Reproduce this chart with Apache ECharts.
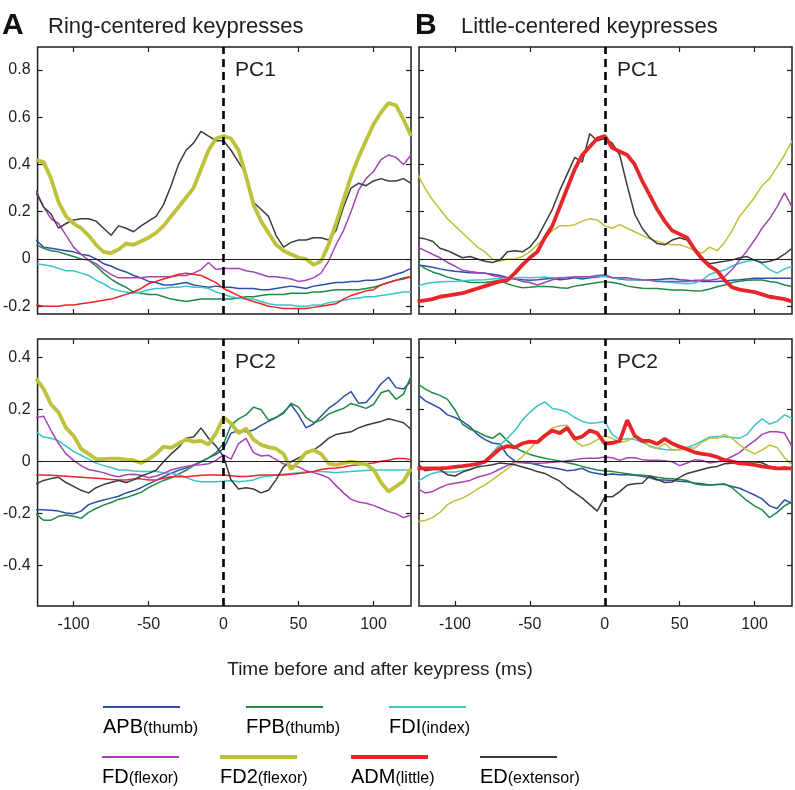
<!DOCTYPE html>
<html>
<head>
<meta charset="utf-8">
<script src="https://cdn.jsdelivr.net/npm/echarts@6/dist/echarts.min.js"></script>
<style>
  html, body { margin: 0; padding: 0; background: #fff; }
  #chart { width: 795px; height: 790px; }
</style>
</head>
<body>
<div id="chart"></div>
<script>
const times = [-125, -120, -115, -110, -105, -100, -95, -90, -85, -80,
  -75, -70, -65, -60, -55, -50, -45, -40, -35, -30,
  -25, -20, -15, -10, -5, 0, 5, 10, 15, 20,
  25, 30, 35, 40, 45, 50, 55, 60, 65, 70,
  75, 80, 85, 90, 95, 100, 105, 110, 115, 120, 125]

const muscleNames = ['APB', 'FPB', 'FDI', 'FD', 'FD2', 'ADM', 'ED']
const muscleParts = ['(thumb)', '(thumb)', '(index)', '(flexor)', '(flexor)', '(little)', '(extensor)']
const muscleColors = ['#2f4fa6', '#1e8a46', '#3cc4c8', '#a545b5', '#bdc23a', '#e8262a', '#3c3c3c']

const panelLetters = ['A', 'B']
const panelTitles = ['Ring-centered keypresses', 'Little-centered keypresses']
const pcLabels = ['PC1', 'PC2']
const xTicks = [-100, -50, 0, 50, 100]
const pc1Ticks = [-0.2, 0, 0.2, 0.4, 0.6, 0.8]
const pc2Ticks = [-0.4, -0.2, 0, 0.2, 0.4]
const xTitle = 'Time before and after keypress (ms)'

// Ring-centered, PC1
const ringPc1Apb = [0.08, 0.05, 0.045, 0.04, 0.035, 0.03, 0.02, 0.015, 0.0, -0.02,
  -0.03, -0.045, -0.055, -0.07, -0.08, -0.095, -0.10, -0.11, -0.11, -0.105,
  -0.10, -0.11, -0.115, -0.12, -0.115, -0.12, -0.12, -0.125, -0.125, -0.125,
  -0.13, -0.13, -0.125, -0.12, -0.115, -0.12, -0.125, -0.115, -0.11, -0.105,
  -0.10, -0.10, -0.095, -0.095, -0.09, -0.09, -0.085, -0.075, -0.065, -0.055, -0.04]
const ringPc1Fpb = [0.06, 0.045, 0.035, 0.03, 0.02, 0.01, 0.0, -0.005, -0.03, -0.06,
  -0.085, -0.105, -0.12, -0.14, -0.145, -0.15, -0.15, -0.16, -0.17, -0.175,
  -0.18, -0.175, -0.17, -0.17, -0.17, -0.17, -0.17, -0.165, -0.16, -0.16,
  -0.155, -0.15, -0.15, -0.15, -0.145, -0.145, -0.145, -0.14, -0.14, -0.135,
  -0.13, -0.13, -0.13, -0.13, -0.125, -0.12, -0.11, -0.10, -0.09, -0.08, -0.075]
const ringPc1Fdi = [-0.02, -0.025, -0.03, -0.04, -0.05, -0.05, -0.06, -0.07, -0.09, -0.105,
  -0.125, -0.135, -0.14, -0.145, -0.14, -0.13, -0.125, -0.125, -0.12, -0.12,
  -0.115, -0.12, -0.12, -0.125, -0.14, -0.15, -0.16, -0.165, -0.17, -0.17,
  -0.18, -0.19, -0.195, -0.195, -0.195, -0.20, -0.20, -0.195, -0.195, -0.185,
  -0.18, -0.175, -0.17, -0.165, -0.16, -0.16, -0.155, -0.15, -0.145, -0.14, -0.14]
const ringPc1Fd = [0.29, 0.22, 0.17, 0.15, 0.10, 0.05, 0.02, -0.005, -0.02, -0.045,
  -0.065, -0.08, -0.08, -0.08, -0.08, -0.075, -0.075, -0.075, -0.075, -0.07,
  -0.07, -0.06, -0.045, -0.015, -0.045, -0.04, -0.04, -0.04, -0.05, -0.055,
  -0.065, -0.075, -0.075, -0.08, -0.085, -0.095, -0.09, -0.08, -0.06, -0.01,
  0.06, 0.12, 0.20, 0.29, 0.34, 0.37, 0.42, 0.44, 0.43, 0.40, 0.44]
const ringPc1Fd2 = [0.42, 0.41, 0.34, 0.24, 0.18, 0.15, 0.13, 0.10, 0.06, 0.03,
  0.025, 0.04, 0.065, 0.06, 0.075, 0.09, 0.11, 0.14, 0.18, 0.22,
  0.26, 0.30, 0.38, 0.46, 0.51, 0.52, 0.51, 0.46, 0.35, 0.23,
  0.16, 0.11, 0.06, 0.035, 0.02, 0.005, 0.0, -0.025, -0.01, 0.06,
  0.15, 0.25, 0.35, 0.43, 0.50, 0.57, 0.62, 0.66, 0.65, 0.59, 0.52]
const ringPc1Adm = [-0.195, -0.2, -0.2, -0.2, -0.195, -0.195, -0.19, -0.185, -0.18, -0.175,
  -0.17, -0.16, -0.15, -0.14, -0.125, -0.105, -0.095, -0.085, -0.075, -0.065,
  -0.06, -0.065, -0.07, -0.085, -0.10, -0.125, -0.14, -0.155, -0.17, -0.18,
  -0.19, -0.2, -0.205, -0.21, -0.21, -0.21, -0.21, -0.205, -0.2, -0.195,
  -0.19, -0.17, -0.155, -0.145, -0.135, -0.13, -0.11, -0.10, -0.09, -0.085, -0.075]
const ringPc1Ed = [0.28, 0.22, 0.19, 0.13, 0.15, 0.165, 0.17, 0.17, 0.16, 0.13,
  0.10, 0.14, 0.13, 0.115, 0.14, 0.16, 0.18, 0.23, 0.31, 0.40,
  0.46, 0.49, 0.54, 0.52, 0.50, 0.50, 0.46, 0.41, 0.36, 0.24,
  0.21, 0.18, 0.10, 0.05, 0.07, 0.08, 0.08, 0.09, 0.09, 0.08,
  0.12, 0.22, 0.30, 0.32, 0.31, 0.33, 0.34, 0.33, 0.33, 0.34, 0.32]

// Little-centered, PC1
const littlePc1Apb = [-0.025, -0.03, -0.035, -0.042, -0.048, -0.052, -0.055, -0.058, -0.06, -0.06,
  -0.065, -0.07, -0.078, -0.085, -0.088, -0.09, -0.088, -0.085, -0.082, -0.088,
  -0.085, -0.08, -0.085, -0.08, -0.078, -0.068, -0.08, -0.085, -0.088, -0.088,
  -0.09, -0.088, -0.088, -0.085, -0.083, -0.088, -0.09, -0.093, -0.095, -0.095,
  -0.095, -0.093, -0.09, -0.088, -0.085, -0.082, -0.082, -0.082, -0.082, -0.082, -0.082]
const littlePc1Fpb = [-0.02, -0.04, -0.055, -0.065, -0.077, -0.085, -0.092, -0.10, -0.10, -0.10,
  -0.095, -0.09, -0.105, -0.115, -0.122, -0.12, -0.117, -0.117, -0.118, -0.122,
  -0.124, -0.115, -0.11, -0.105, -0.10, -0.096, -0.10, -0.105, -0.115, -0.12,
  -0.124, -0.125, -0.125, -0.128, -0.131, -0.131, -0.133, -0.136, -0.135, -0.127,
  -0.118, -0.11, -0.10, -0.094, -0.09, -0.089, -0.089, -0.095, -0.10, -0.11, -0.117]
const littlePc1Fdi = [-0.115, -0.105, -0.1, -0.097, -0.095, -0.095, -0.092, -0.09, -0.089, -0.088,
  -0.085, -0.083, -0.09, -0.08, -0.078, -0.08, -0.078, -0.076, -0.08, -0.08,
  -0.077, -0.076, -0.076, -0.075, -0.075, -0.075, -0.08, -0.083, -0.086, -0.088,
  -0.09, -0.09, -0.093, -0.097, -0.10, -0.103, -0.105, -0.102, -0.09, -0.065,
  -0.055, -0.047, -0.03, -0.018, -0.01, -0.005, -0.02, -0.045, -0.06, -0.042, -0.032]
const littlePc1Fd = [0.05, 0.035, 0.02, 0.005, -0.015, -0.03, -0.048, -0.053, -0.057, -0.06,
  -0.07, -0.076, -0.08, -0.085, -0.095, -0.10, -0.11, -0.10, -0.088, -0.082,
  -0.08, -0.075, -0.075, -0.075, -0.07, -0.068, -0.078, -0.08, -0.08, -0.085,
  -0.088, -0.09, -0.095, -0.095, -0.095, -0.095, -0.095, -0.09, -0.09, -0.09,
  -0.085, -0.075, -0.045, -0.005, 0.035, 0.08, 0.13, 0.17, 0.22, 0.28, 0.22]
const littlePc1Fd2 = [0.36, 0.30, 0.25, 0.21, 0.17, 0.14, 0.11, 0.08, 0.05, 0.03,
  0.0, -0.01, 0.0, 0.0, 0.01, 0.03, 0.06, 0.09, 0.12, 0.14,
  0.14, 0.145, 0.16, 0.17, 0.165, 0.14, 0.13, 0.145, 0.13, 0.115,
  0.10, 0.085, 0.075, 0.065, 0.06, 0.06, 0.05, 0.035, 0.025, 0.05,
  0.035, 0.07, 0.12, 0.18, 0.22, 0.26, 0.31, 0.34, 0.39, 0.44, 0.50]
const littlePc1Adm = [-0.18, -0.175, -0.17, -0.16, -0.155, -0.15, -0.145, -0.135, -0.125, -0.115,
  -0.105, -0.095, -0.09, -0.06, -0.025, 0.005, 0.03, 0.09, 0.14, 0.22,
  0.30, 0.38, 0.44, 0.475, 0.51, 0.52, 0.47, 0.455, 0.44, 0.40,
  0.33, 0.27, 0.21, 0.16, 0.12, 0.105, 0.09, 0.04, 0.0, -0.03,
  -0.05, -0.09, -0.12, -0.13, -0.135, -0.14, -0.15, -0.16, -0.165, -0.17, -0.18]
const littlePc1Ed = [0.09, 0.085, 0.075, 0.045, 0.035, 0.02, 0.005, 0.01, 0.0, -0.01,
  -0.015, -0.005, 0.03, 0.035, 0.03, 0.05, 0.09, 0.15, 0.21, 0.29,
  0.36, 0.43, 0.41, 0.53, 0.50, 0.51, 0.49, 0.44, 0.31, 0.19,
  0.13, 0.09, 0.065, 0.06, 0.08, 0.09, 0.08, 0.035, 0.0, -0.02,
  -0.015, -0.01, -0.005, 0.005, 0.01, -0.005, -0.015, -0.01, 0.0, 0.02, 0.045]

// Ring-centered, PC2
const ringPc2Apb = [-0.185, -0.185, -0.187, -0.19, -0.197, -0.2, -0.19, -0.165, -0.155, -0.147,
  -0.14, -0.133, -0.12, -0.112, -0.1, -0.085, -0.072, -0.058, -0.045, -0.033,
  -0.024, -0.012, 0.0, 0.015, 0.028, 0.05, 0.11, 0.12, 0.115, 0.122,
  0.14, 0.155, 0.17, 0.19, 0.22, 0.18, 0.13, 0.145, 0.175, 0.205,
  0.225, 0.25, 0.27, 0.225, 0.228, 0.26, 0.3, 0.325, 0.285, 0.28, 0.31]
const ringPc2Fpb = [-0.2, -0.225, -0.225, -0.21, -0.205, -0.21, -0.218, -0.195, -0.18, -0.167,
  -0.157, -0.145, -0.138, -0.128, -0.118, -0.1, -0.085, -0.072, -0.062, -0.048,
  -0.033, -0.015, 0.0, 0.015, 0.035, 0.07, 0.14, 0.165, 0.18, 0.21,
  0.2, 0.16, 0.17, 0.186, 0.225, 0.21, 0.17, 0.15, 0.16, 0.183,
  0.195, 0.205, 0.224, 0.215, 0.205, 0.22, 0.265, 0.275, 0.24, 0.26, 0.33]
const ringPc2Fdi = [0.115, 0.095, 0.09, 0.08, 0.06, 0.04, 0.025, 0.01, -0.005, -0.015,
  -0.022, -0.032, -0.032, -0.036, -0.038, -0.038, -0.038, -0.042, -0.045, -0.05,
  -0.06, -0.072, -0.077, -0.077, -0.077, -0.075, -0.072, -0.077, -0.074, -0.07,
  -0.06, -0.055, -0.051, -0.048, -0.045, -0.042, -0.04, -0.038, -0.038, -0.04,
  -0.042, -0.04, -0.038, -0.036, -0.034, -0.032, -0.032, -0.032, -0.032, -0.032, -0.032]
const ringPc2Fd = [0.17, 0.175, 0.12, 0.07, 0.03, 0.005, -0.015, -0.03, -0.036, -0.042,
  -0.052, -0.058, -0.05, -0.048, -0.052, -0.062, -0.055, -0.045, -0.032, -0.024,
  -0.018, -0.014, -0.012, -0.008, 0.005, 0.026, 0.01, 0.07, 0.09, 0.035,
  0.022, 0.025, 0.008, -0.008, -0.015, -0.02, -0.035, -0.042, -0.05, -0.062,
  -0.092, -0.12, -0.145, -0.155, -0.16, -0.168, -0.18, -0.192, -0.2, -0.215, -0.205]
const ringPc2Fd2 = [0.32, 0.28, 0.22, 0.19, 0.13, 0.10, 0.05, 0.03, 0.01, 0.01,
  0.012, 0.012, 0.008, 0.006, -0.005, 0.01, 0.03, 0.058, 0.053, 0.07,
  0.085, 0.077, 0.08, 0.066, 0.11, 0.17, 0.148, 0.11, 0.127, 0.085,
  0.065, 0.056, 0.05, 0.03, -0.03, 0.0, 0.035, 0.045, 0.03, -0.006,
  -0.012, -0.005, 0.0, -0.005, -0.01, -0.03, -0.08, -0.115, -0.095, -0.075, -0.026]
const ringPc2Adm = [-0.051, -0.051, -0.052, -0.054, -0.056, -0.058, -0.06, -0.062, -0.064, -0.066,
  -0.068, -0.07, -0.07, -0.066, -0.066, -0.07, -0.07, -0.064, -0.058, -0.058,
  -0.058, -0.055, -0.052, -0.051, -0.051, -0.051, -0.054, -0.057, -0.057, -0.054,
  -0.051, -0.051, -0.051, -0.051, -0.048, -0.045, -0.042, -0.038, -0.03, -0.026,
  -0.024, -0.02, -0.015, -0.012, -0.008, -0.005, 0.002, 0.006, 0.012, 0.012, 0.008]
const ringPc2Ed = [-0.085, -0.072, -0.065, -0.06, -0.08, -0.095, -0.11, -0.12, -0.1, -0.088,
  -0.08, -0.072, -0.08, -0.07, -0.055, -0.045, -0.033, 0.0, 0.03, 0.055,
  0.09, 0.095, 0.13, 0.09, 0.06, 0.02, -0.07, -0.105, -0.1, -0.105,
  -0.12, -0.11, -0.07, -0.02, 0.0, 0.015, 0.03, 0.045, 0.065, 0.09,
  0.105, 0.11, 0.115, 0.13, 0.14, 0.148, 0.155, 0.165, 0.158, 0.15, 0.125]

// Little-centered, PC2
const littlePc2Apb = [0.26, 0.235, 0.22, 0.205, 0.18, 0.17, 0.155, 0.135, 0.105, 0.085,
  0.072, 0.068, 0.025, 0.002, -0.002, -0.005, -0.012, -0.019, -0.023, -0.028,
  -0.035, -0.032, -0.025, -0.04, -0.045, -0.05, -0.047, -0.05, -0.05, -0.052,
  -0.056, -0.062, -0.07, -0.07, -0.072, -0.075, -0.077, -0.082, -0.085, -0.09,
  -0.088, -0.088, -0.095, -0.102, -0.115, -0.128, -0.143, -0.17, -0.18, -0.147, -0.16]
const littlePc2Fpb = [0.3, 0.28, 0.265, 0.255, 0.24, 0.2, 0.145, 0.125, 0.115, 0.1,
  0.09, 0.11, 0.08, 0.055, 0.04, 0.028, 0.02, 0.013, 0.008, 0.003,
  -0.004, -0.01, -0.018, -0.025, -0.032, -0.035, -0.038, -0.042, -0.046, -0.05,
  -0.052, -0.055, -0.06, -0.064, -0.066, -0.068, -0.072, -0.085, -0.09, -0.09,
  -0.088, -0.085, -0.1, -0.125, -0.15, -0.17, -0.185, -0.215, -0.195, -0.17, -0.154]
const littlePc2Fdi = [-0.077, -0.058, -0.045, -0.038, -0.04, -0.04, -0.034, -0.03, -0.02, 0.0,
  0.035, 0.065, 0.09, 0.12, 0.16, 0.19, 0.215, 0.23, 0.205, 0.2,
  0.19, 0.17, 0.155, 0.148, 0.15, 0.155, 0.105, 0.085, 0.088, 0.085,
  0.075, 0.062, 0.052, 0.047, 0.045, 0.048, 0.055, 0.065, 0.08, 0.095,
  0.097, 0.096, 0.093, 0.09, 0.105, 0.14, 0.165, 0.145, 0.155, 0.18, 0.167]
const littlePc2Fd = [-0.103, -0.12, -0.115, -0.1, -0.088, -0.083, -0.078, -0.072, -0.06, -0.052,
  -0.043, -0.028, -0.015, -0.002, -0.004, -0.006, -0.006, -0.005, -0.002, 0.0,
  0.004, 0.008, 0.012, 0.013, 0.013, 0.018, 0.015, 0.005, 0.015, 0.015,
  0.008, 0.006, 0.006, 0.004, 0.0, -0.015, -0.005, 0.008, 0.005, -0.005,
  0.0, 0.006, 0.02, 0.035, 0.06, 0.08, 0.105, 0.115, 0.115, 0.11, 0.058]
const littlePc2Fd2 = [-0.23, -0.226, -0.215, -0.195, -0.165, -0.15, -0.14, -0.125, -0.105, -0.09,
  -0.07, -0.048, -0.028, -0.005, 0.02, 0.05, 0.08, 0.105, 0.13, 0.138,
  0.14, 0.08, 0.06, 0.068, 0.085, 0.1, 0.09, 0.075, 0.08, 0.095,
  0.085, 0.058, 0.05, 0.07, 0.045, 0.045, 0.056, 0.052, 0.075, 0.09,
  0.09, 0.105, 0.09, 0.065, 0.045, 0.03, 0.045, 0.064, 0.055, 0.015, -0.013]
const littlePc2Adm = [-0.026, -0.026, -0.026, -0.026, -0.024, -0.02, -0.017, -0.013, -0.008, 0.0,
  0.025, 0.05, 0.06, 0.055, 0.07, 0.077, 0.075, 0.1, 0.12, 0.11,
  0.13, 0.088, 0.097, 0.12, 0.11, 0.07, 0.072, 0.08, 0.16, 0.1,
  0.08, 0.08, 0.068, 0.088, 0.07, 0.058, 0.048, 0.036, 0.03, 0.026,
  0.018, 0.006, 0.0, -0.006, -0.008, -0.012, -0.018, -0.022, -0.026, -0.026, -0.026]
const littlePc2Ed = [-0.006, -0.035, -0.03, -0.03, -0.05, -0.055, -0.04, -0.03, -0.02, -0.016,
  -0.012, -0.005, -0.008, -0.012, -0.02, -0.028, -0.038, -0.045, -0.06, -0.075,
  -0.1, -0.12, -0.14, -0.165, -0.19, -0.135, -0.135, -0.115, -0.09, -0.085,
  -0.083, -0.055, -0.068, -0.08, -0.078, -0.06, -0.045, -0.038, -0.03, -0.022,
  -0.018, -0.008, -0.006, -0.005, -0.002, 0.0, -0.004, -0.018, -0.025, -0.02, -0.026]

; (function () {
  const FONT = '"Liberation Sans", Arial, Helvetica, sans-serif'
  const INK = '#1e1e1e'

  // panel order: A-PC1, B-PC1, A-PC2, B-PC2
  const panels = [
    { lines: [ringPc1Apb, ringPc1Fpb, ringPc1Fdi, ringPc1Fd, ringPc1Fd2, ringPc1Adm, ringPc1Ed], thick: 4, pc: 0, col: 0 },
    { lines: [littlePc1Apb, littlePc1Fpb, littlePc1Fdi, littlePc1Fd, littlePc1Fd2, littlePc1Adm, littlePc1Ed], thick: 5, pc: 0, col: 1 },
    { lines: [ringPc2Apb, ringPc2Fpb, ringPc2Fdi, ringPc2Fd, ringPc2Fd2, ringPc2Adm, ringPc2Ed], thick: 4, pc: 1, col: 0 },
    { lines: [littlePc2Apb, littlePc2Fpb, littlePc2Fdi, littlePc2Fd, littlePc2Fd2, littlePc2Adm, littlePc2Ed], thick: 5, pc: 1, col: 1 }
  ]
  const colLeft = [37, 419]
  const colWidth = [374, 373]
  const rowTop = [47, 339]
  const yRange = [[-0.233, 0.897], [-0.555, 0.472]]
  const yTicks = [pc1Ticks, pc2Ticks]

  const fmtY = v => (Math.abs(v) < 1e-9 ? '0' : v.toFixed(1))

  const grid = panels.map(p => ({
    left: colLeft[p.col], top: rowTop[p.pc], width: colWidth[p.col], height: 267,
    show: true, borderColor: INK, borderWidth: 1.5, backgroundColor: 'transparent'
  }))

  const tick = vals => ({ show: true, inside: true, length: 5, customValues: vals, lineStyle: { color: INK, width: 1.2 } })
  const noLine = { show: false, onZero: false }

  const xAxis = []
  const yAxis = []
  panels.forEach((p, g) => {
    xAxis.push({
      type: 'value', gridIndex: g, min: -124, max: 125, position: 'bottom',
      axisLine: noLine, splitLine: { show: false },
      axisTick: tick(xTicks),
      axisLabel: { show: p.pc === 1, customValues: xTicks, margin: 11, color: INK, fontSize: 16, fontFamily: FONT }
    })
    xAxis.push({
      type: 'value', gridIndex: g, min: -124, max: 125, position: 'top',
      axisLine: noLine, splitLine: { show: false },
      axisTick: tick(xTicks), axisLabel: { show: false }
    })
    yAxis.push({
      type: 'value', gridIndex: g, min: yRange[p.pc][0], max: yRange[p.pc][1], position: 'left',
      axisLine: noLine, splitLine: { show: false },
      axisTick: tick(yTicks[p.pc]),
      axisLabel: { show: p.col === 0, customValues: yTicks[p.pc], formatter: fmtY, margin: 7, color: INK, fontSize: 16, fontFamily: FONT }
    })
    yAxis.push({
      type: 'value', gridIndex: g, min: yRange[p.pc][0], max: yRange[p.pc][1], position: 'right',
      axisLine: noLine, splitLine: { show: false },
      axisTick: tick(yTicks[p.pc]), axisLabel: { show: false }
    })
  })

  const series = []
  panels.forEach((p, g) => {
    p.lines.forEach((vals, m) => {
      const isThick = m === p.thick
      series.push({
        type: 'line', name: muscleNames[m],
        xAxisIndex: g * 2, yAxisIndex: g * 2,
        data: times.map((t, i) => [t, vals[i]]),
        symbol: 'none', showSymbol: false, silent: true,
        lineStyle: { color: muscleColors[m], width: isThick ? 3.8 : 1.5 },
        itemStyle: { color: muscleColors[m] },
        z: isThick ? 4 : 3
      })
    })
    // zero line + dashed keypress line
    series.push({
      type: 'line', xAxisIndex: g * 2, yAxisIndex: g * 2,
      data: [[0, 0]], symbol: 'none', lineStyle: { opacity: 0 }, silent: true, z: 5,
      markLine: {
        silent: true, symbol: 'none', label: { show: false }, animation: false,
        data: [
          { yAxis: 0, lineStyle: { color: INK, width: 1.2, type: 'solid' } },
          { xAxis: 0, lineStyle: { color: '#000', width: 2.6, type: [8, 5] } }
        ]
      }
    })
  })

  const graphic = []
  const txt = (text, x, y, size, opts) => Object.assign({
    type: 'text', x: x, y: y, silent: true,
    style: { text: text, fill: INK, font: size + 'px ' + FONT, verticalAlign: 'middle', align: 'left' }
  }, opts || {})

  panelLetters.forEach((l, i) => {
    graphic.push(txt(l, [2, 415][i], 26, 30, { style: { text: l, fill: '#111', font: 'bold 30px ' + FONT, verticalAlign: 'middle' } }))
    graphic.push(txt(panelTitles[i], [48, 461][i], 27, 22))
  })
  pcLabels.forEach((pc, r) => {
    ;[235, 617].forEach(x => graphic.push(txt(pc, x, [70, 362][r], 21)))
  })
  graphic.push({
    type: 'text', x: 380, y: 670, silent: true,
    style: { text: xTitle, fill: INK, font: '19px ' + FONT, align: 'center', verticalAlign: 'middle' }
  })

  // legend: sample line above each label, two rows
  const legendRows = [[0, 1, 2], [3, 4, 5, 6]]
  const legendX = [[103, 246, 389], [102, 220, 351, 480]]
  const legendY = [707, 757]
  legendRows.forEach((row, r) => {
    row.forEach((m, k) => {
      const x = legendX[r][k]
      const heavy = m === 4 || m === 5
      graphic.push({
        type: 'line', silent: true,
        shape: { x1: x, y1: legendY[r], x2: x + 77, y2: legendY[r] },
        style: { stroke: muscleColors[m], lineWidth: heavy ? 4 : 2 }
      })
      graphic.push({
        type: 'text', x: x, y: legendY[r] + 30, silent: true,
        style: {
          text: '{a|' + muscleNames[m] + '}{b|' + muscleParts[m] + '}',
          verticalAlign: 'bottom',
          rich: {
            a: { fontSize: 20, fontFamily: FONT, color: INK, verticalAlign: 'bottom', lineHeight: 24 },
            b: { fontSize: 16, fontFamily: FONT, color: INK, verticalAlign: 'bottom', lineHeight: 24 }
          }
        }
      })
    })
  })

  const myChart = echarts.init(document.getElementById('chart'), null, { renderer: 'canvas' })
  myChart.setOption({
    animation: false,
    backgroundColor: '#fff',
    grid: grid,
    xAxis: xAxis,
    yAxis: yAxis,
    series: series,
    graphic: { elements: graphic }
  })
  window.addEventListener('resize', function () {
    myChart.resize()
  })
})()
</script>
</body>
</html>
